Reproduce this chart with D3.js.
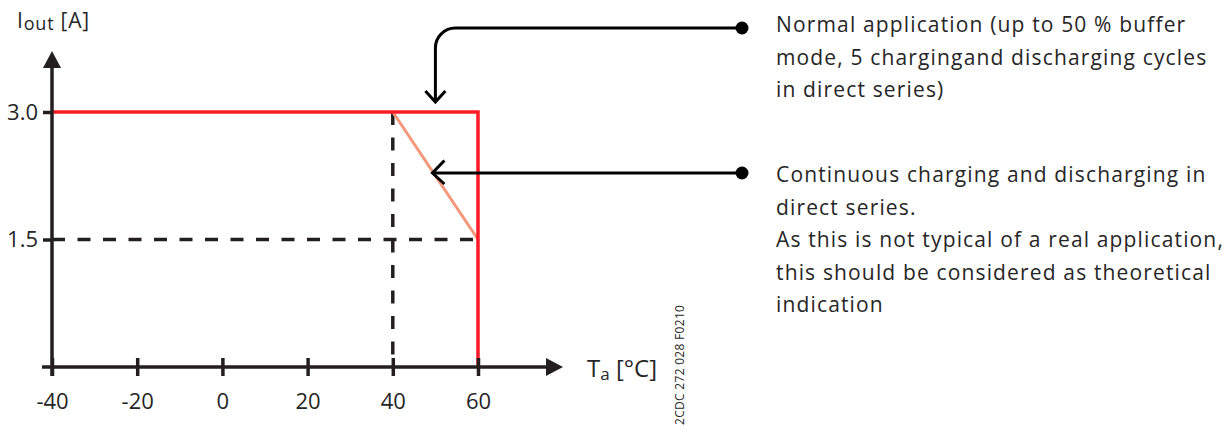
<!DOCTYPE html>
<html lang="en">
<head>
  <meta charset="UTF-8" />
  <title>Derating curve</title>
  <script src="https://d3js.org/d3.v7.min.js"></script>
  <style>
    body {
      margin: 0;
      background-color: #ffffff;
    }
    svg {
      display: block;
      font-family: 'Open Sans', sans-serif;
    }
    .note {
      font-size: 21px;
      letter-spacing: 1.15px;
      fill: #262626;
    }
  </style>
</head>
<body>
  <svg width="1229" height="436"></svg>
  <script>
    // data
    const xTicks = [-40, -20, 0, 20, 40, 60];
    const yTicks = [1.5, 3.0];
    const normalCurve = [[-40, 3.0], [60, 3.0], [60, 0]];
    const continuousCurve = [[40, 3.0], [60, 1.5]];
    const guideH = [[-40, 1.5], [60, 1.5]];
    const guideV = [[40, 3.0], [40, 0]];
    const notes = [
      ["Normal application (up to 50 % buffer", "mode, 5 chargingand discharging cycles", "in direct series)"],
      ["Continuous charging and discharging in", "direct series.", "As this is not typical of a real application,", "this should be considered as theoretical", "indication"]
    ];
    const noteTargets = [[50, 3.0], [49.3, 2.3]];

    const svg = d3.select("svg");
    const ink = "#231f20";

    const x = d3.scaleLinear().domain([-40, 60]).range([52, 478]);
    const y = d3.scaleLinear().domain([0, 3]).range([367, 112]);
    const line = d3.line().x(d => x(d[0])).y(d => y(d[1]));

    // dashed guides
    [guideH, guideV].forEach(g => {
      svg.append("path")
        .attr("d", line(g))
        .attr("fill", "none")
        .attr("stroke", ink)
        .attr("stroke-width", 3.5)
        .attr("stroke-dasharray", "13,12.5");
    });

    // curves
    svg.append("path")
      .attr("d", line(continuousCurve))
      .attr("fill", "none")
      .attr("stroke", "#f5977a")
      .attr("stroke-width", 3);

    svg.append("path")
      .attr("d", line(normalCurve))
      .attr("fill", "none")
      .attr("stroke", "#ff1a26")
      .attr("stroke-width", 3.5);

    // x axis
    const xAxis = svg.append("g")
      .attr("transform", `translate(0,${y(0)})`)
      .call(d3.axisBottom(x).tickValues(xTicks).tickFormat(d => String(d)).tickSize(0).tickPadding(0));
    xAxis.select(".domain").remove();
    xAxis.selectAll(".tick line")
      .attr("y1", -9).attr("y2", 9)
      .attr("stroke", ink).attr("stroke-width", 3.5);
    xAxis.selectAll(".tick text")
      .attr("y", 42).attr("dy", null)
      .attr("font-family", "'Open Sans', sans-serif")
      .attr("font-size", 22)
      .attr("fill", "#262626");

    // y axis
    const yAxis = svg.append("g")
      .attr("transform", `translate(${x(-40)},0)`)
      .call(d3.axisLeft(y).tickValues(yTicks).tickFormat(d3.format(".1f")).tickSize(9).tickPadding(5));
    yAxis.select(".domain").remove();
    yAxis.selectAll(".tick line").attr("stroke", ink).attr("stroke-width", 3.5);
    yAxis.selectAll(".tick text")
      .attr("font-family", "'Open Sans', sans-serif")
      .attr("font-size", 22)
      .attr("fill", "#262626");

    // axis lines with arrow heads
    svg.append("line")
      .attr("x1", x(-40) - 10).attr("x2", 550)
      .attr("y1", y(0)).attr("y2", y(0))
      .attr("stroke", ink).attr("stroke-width", 3.5);
    svg.append("path")
      .attr("d", `M563,${y(0)} L546,${y(0) - 9} L546,${y(0) + 9} Z`)
      .attr("fill", ink);
    svg.append("line")
      .attr("x1", x(-40)).attr("x2", x(-40))
      .attr("y1", y(0) + 9).attr("y2", 64)
      .attr("stroke", ink).attr("stroke-width", 3.5);
    svg.append("path")
      .attr("d", `M${x(-40)},51 L${x(-40) - 9},68 L${x(-40) + 9},68 Z`)
      .attr("fill", ink);

    // axis titles
    const yTitle = svg.append("text")
      .attr("x", 17).attr("y", 28)
      .attr("font-size", 21).attr("letter-spacing", 0.8).attr("fill", "#262626");
    yTitle.append("tspan").text("I");
    yTitle.append("tspan").attr("font-size", 18).attr("dy", 2).text("out");
    yTitle.append("tspan").attr("dy", -2).text(" [A]");

    const xTitle = svg.append("text")
      .attr("x", 587).attr("y", 377)
      .attr("font-size", 24).attr("fill", "#262626");
    xTitle.append("tspan").text("T");
    xTitle.append("tspan").attr("font-size", 17).attr("dy", 3).text("a");
    xTitle.append("tspan").attr("dy", -3).text(" [°C]");

    svg.append("text")
      .attr("transform", "translate(684,425) rotate(-90)")
      .attr("font-size", 12)
      .attr("letter-spacing", 0.3)
      .attr("fill", "#262626")
      .text("2CDC 272 028 F0210");

    // annotation arrows
    const dotX = 742;
    const noteY = [28, 173];
    const tx0 = x(noteTargets[0][0]), ty0 = y(noteTargets[0][1]) - 10;
    const r = 20;
    svg.append("path")
      .attr("d", `M${dotX},${noteY[0]} H${tx0 + r} A${r},${r} 0 0 0 ${tx0},${noteY[0] + r} V${ty0}
                  M${tx0 - 10},${ty0 - 11} L${tx0},${ty0} L${tx0 + 10},${ty0 - 11}`)
      .attr("fill", "none").attr("stroke", "#000").attr("stroke-width", 3);

    const tx1 = x(noteTargets[1][0]), ty1 = y(noteTargets[1][1]);
    svg.append("path")
      .attr("d", `M${dotX},${noteY[1]} H${tx1} M${tx1 + 12},${ty1 - 11} L${tx1},${noteY[1]} L${tx1 + 12},${noteY[1] + 11}`)
      .attr("fill", "none").attr("stroke", "#000").attr("stroke-width", 3);

    svg.selectAll("circle.dot")
      .data(noteY)
      .enter()
      .append("circle")
      .attr("class", "dot")
      .attr("cx", dotX).attr("cy", d => d)
      .attr("r", 6.5)
      .attr("fill", "#000");

    // notes
    const noteBase = [32, 182];
    notes.forEach((lines, i) => {
      const t = svg.append("text").attr("class", "note");
      t.selectAll("tspan")
        .data(lines)
        .enter()
        .append("tspan")
        .attr("x", 776)
        .attr("y", (d, j) => noteBase[i] + j * 32.5)
        .text(d => d);
    });
  </script>
</body>
</html>
